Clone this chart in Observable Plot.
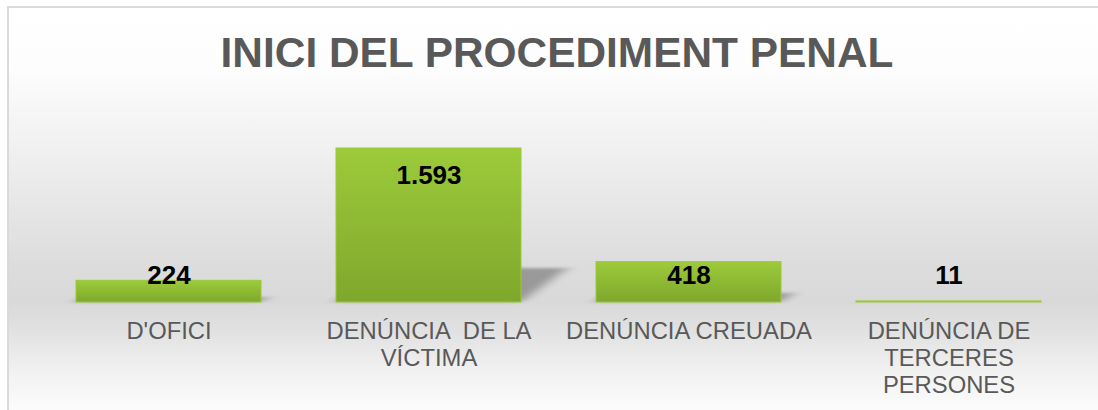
<!DOCTYPE html>
<html>
<head>
<meta charset="utf-8">
<script src="https://cdn.jsdelivr.net/npm/d3@7"></script>
<script src="https://cdn.jsdelivr.net/npm/@observablehq/plot@0.6"></script>
<style>
  html, body { margin: 0; padding: 0; width: 1098px; height: 410px; overflow: hidden; background: #fff; }
  #frame {
    position: absolute; left: 7px; top: 6px; width: 1200px; height: 500px;
    border-top: 2px solid #d9d9d9; border-left: 2px solid #d9d9d9;
    background: linear-gradient(to bottom, #ffffff 0px, #fdfdfd 60px, #f2f2f2 130px, #e6e6e6 200px, #dcdcdc 260px, #d9d9d9 295px, #e2e2e2 325px, #f2f2f2 365px, #fcfcfc 404px, #fcfcfc 500px);
  }
  #title {
    position: absolute; left: 7px; top: 31.5px; width: 1100px; text-align: center;
    font-family: "Liberation Sans", Arial, sans-serif; font-weight: bold; font-size: 42.4px;
    line-height: 42px; color: #595959; white-space: nowrap;
  }
  #chart { position: absolute; left: 0; top: 100px; }
</style>
</head>
<body>
<div id="frame"></div>
<div id="title">INICI DEL PROCEDIMENT PENAL</div>
<div id="chart"></div>
<script>
const categories = ["D'OFICI", "DENÚNCIA  DE LA VÍCTIMA", "DENÚNCIA CREUADA", "DENÚNCIA DE TERCERES PERSONES"];
const tickLabels = ["D'OFICI", "DENÚNCIA  DE LA\nVÍCTIMA", "DENÚNCIA CREUADA", "DENÚNCIA DE\nTERCERES\nPERSONES"];
const values = [224, 1593, 418, 11];

const data = categories.map((c, i) => ({cat: c, label: tickLabels[i], value: values[i]}));
const fmt = d3.formatLocale({decimal: ",", thousands: ".", grouping: [3], currency: ["", " €"]}).format(",");
const font = "'Liberation Sans', Arial, sans-serif";

const plot = Plot.plot({
  width: 1098,
  height: 310,
  marginTop: 48,
  marginBottom: 108,
  marginLeft: 37,
  marginRight: 19,
  x: {domain: categories, paddingInner: 0.29, paddingOuter: 0.145, align: 0.5, axis: null},
  y: {domain: [0, 1593], axis: null},
  style: {background: "transparent", fontFamily: font, overflow: "visible"},
  marks: [
    Plot.barY(data, {x: "cat", y: "value", fill: "#000", fillOpacity: 0.3}),
    Plot.barY(data, {x: "cat", y: "value", fill: "url(#barGrad)", stroke: "#9acb38", strokeWidth: 1}),
    Plot.text(data, {
      x: "cat",
      y: d => Math.max(d.value - 280, 280),
      text: d => fmt(d.value),
      fontSize: 26, fontWeight: "bold", fill: "#000"
    }),
    Plot.text(data, {
      x: "cat", text: "label", frameAnchor: "bottom", lineAnchor: "top",
      dy: 17, fontSize: 23.8, lineHeight: 1.14, fill: "#595959"
    })
  ]
});

document.getElementById("chart").appendChild(plot);

const svg = d3.select(plot);
const defs = svg.insert("defs", ":first-child");
const grad = defs.append("linearGradient").attr("id", "barGrad")
  .attr("x1", 0).attr("y1", 0).attr("x2", 0).attr("y2", 1);
grad.append("stop").attr("offset", "0%").attr("stop-color", "#9ccb3a");
grad.append("stop").attr("offset", "100%").attr("stop-color", "#7fa72d");
defs.append("filter").attr("id", "shadowBlur").attr("x", "-50%").attr("y", "-50%").attr("width", "200%").attr("height", "200%")
  .append("feGaussianBlur").attr("stdDeviation", 7);

const B = plot.scale("y").apply(0);
const k = 0.3, s = 0.22;
const shadowG = plot.querySelector('g[aria-label="bar"]');
const prev = shadowG.getAttribute("transform") || "";
shadowG.setAttribute("transform", `matrix(1,0,${-k},${s},${k * B},${(1 - s) * B}) ${prev}`);
shadowG.setAttribute("filter", "url(#shadowBlur)");
</script>
</body>
</html>
